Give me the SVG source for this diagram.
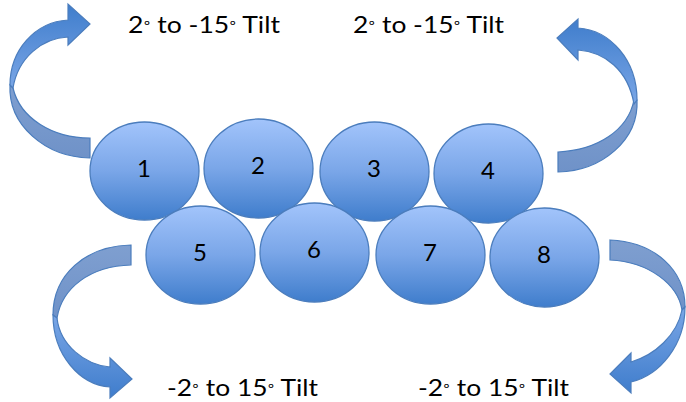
<svg xmlns="http://www.w3.org/2000/svg" width="686" height="402" viewBox="0 0 686 402">
<defs>
<linearGradient id="eg" x1="0" y1="0" x2="0" y2="1">
<stop offset="0" stop-color="#a2c4fb"/>
<stop offset="0.5" stop-color="#7aa6e8"/>
<stop offset="1" stop-color="#3f7dcc"/>
</linearGradient>
<linearGradient id="agUp" x1="0" y1="1" x2="0" y2="0">
<stop offset="0" stop-color="#7aa6e6"/>
<stop offset="1" stop-color="#3f7dcc"/>
</linearGradient>
<linearGradient id="agDown" x1="0" y1="0" x2="0" y2="1">
<stop offset="0" stop-color="#7aa6e6"/>
<stop offset="1" stop-color="#3f7dcc"/>
</linearGradient>
<linearGradient id="back" x1="0" y1="0" x2="0" y2="1">
<stop offset="0" stop-color="#7f9fd0"/>
<stop offset="1" stop-color="#6f92c8"/>
</linearGradient>
</defs>
<style>
.node ellipse{fill:url(#eg);stroke:#4b7dbd;stroke-width:1.3}
.node text{font-family:Lato,"Open Sans","Liberation Sans",sans-serif;font-size:24px;fill:#000;text-anchor:middle}
.arr path{stroke:#4b7dbd;stroke-width:1.2;stroke-linejoin:miter}
.back{fill:url(#back)}
.lbl{font-family:Lato,"Open Sans","Liberation Sans",sans-serif;font-size:23px;fill:#000}
.deg{font-size:15px}
</style>
<g id="connectors" class="arr">
<path class="back" d="M 10,85 C 8,125 45,157 90,158 L 90,138 C 52,138 20,118 13,88 Z"/>
<path fill="url(#agUp)" d="M 10,85 C 10,50 35,22 68,20 L 68,4 L 90,24 L 68,45 L 68,37 C 42,38 18,58 13,88 Z"/>
<path class="back" d="M 637,100 C 639,140 602,171 558,172 L 558,152 C 598,150 628,130 634,100 Z"/>
<path fill="url(#agUp)" d="M 637,100 C 637,60 610,30 578,28 L 578,19 L 557,38 L 578,60 L 578,50 C 605,52 628,70 634,104 Z"/>
<path class="back" d="M 131,245 C 85,246 53,275 53,315 L 57,318 C 62,288 90,266 131,265 Z"/>
<path fill="url(#agDown)" d="M 53,315 C 53,355 80,385 110,387 L 110,398 L 132,379 L 110,358 L 110,367 C 85,365 60,345 57,318 Z"/>
<path class="back" d="M 610,240 C 655,242 685,270 685,307 L 682,310 C 678,285 650,262 610,260 Z"/>
<path fill="url(#agDown)" d="M 685,307 C 685,345 660,375 631,382 L 631,393 L 610,374 L 631,353 L 631,362 C 655,355 677,335 682,310 Z"/>
</g>
<g id="node1" class="node"><ellipse cx="144.5" cy="171" rx="54.5" ry="49"/><text x="144" y="177">1</text></g>
<g id="node2" class="node"><ellipse cx="258.5" cy="168.5" rx="54.5" ry="49.5"/><text x="258" y="174">2</text></g>
<g id="node3" class="node"><ellipse cx="374.5" cy="171.5" rx="54.5" ry="49.5"/><text x="374" y="177">3</text></g>
<g id="node4" class="node"><ellipse cx="488.5" cy="173.5" rx="54.5" ry="49.5"/><text x="488" y="179">4</text></g>
<g id="node5" class="node"><ellipse cx="200.5" cy="255" rx="54.5" ry="49"/><text x="200" y="261">5</text></g>
<g id="node6" class="node"><ellipse cx="314.5" cy="252.5" rx="54.5" ry="49.5"/><text x="314" y="258">6</text></g>
<g id="node7" class="node"><ellipse cx="430.5" cy="255" rx="54.5" ry="49"/><text x="430" y="261">7</text></g>
<g id="node8" class="node"><ellipse cx="544.5" cy="257.5" rx="54.5" ry="49.5"/><text x="544" y="263">8</text></g>
<g id="labels">
<text class="lbl" x="128" y="33" textLength="152" lengthAdjust="spacingAndGlyphs">2<tspan class="deg" dy="-5">◦</tspan><tspan dy="5"> to -15</tspan><tspan class="deg" dy="-5">◦</tspan><tspan dy="5"> Tilt</tspan></text>
<text class="lbl" x="353" y="33" textLength="151" lengthAdjust="spacingAndGlyphs">2<tspan class="deg" dy="-5">◦</tspan><tspan dy="5"> to -15</tspan><tspan class="deg" dy="-5">◦</tspan><tspan dy="5"> Tilt</tspan></text>
<text class="lbl" x="167" y="396" textLength="151" lengthAdjust="spacingAndGlyphs">-2<tspan class="deg" dy="-5">◦</tspan><tspan dy="5"> to 15</tspan><tspan class="deg" dy="-5">◦</tspan><tspan dy="5"> Tilt</tspan></text>
<text class="lbl" x="418" y="396" textLength="151" lengthAdjust="spacingAndGlyphs">-2<tspan class="deg" dy="-5">◦</tspan><tspan dy="5"> to 15</tspan><tspan class="deg" dy="-5">◦</tspan><tspan dy="5"> Tilt</tspan></text>
</g>
</svg>
